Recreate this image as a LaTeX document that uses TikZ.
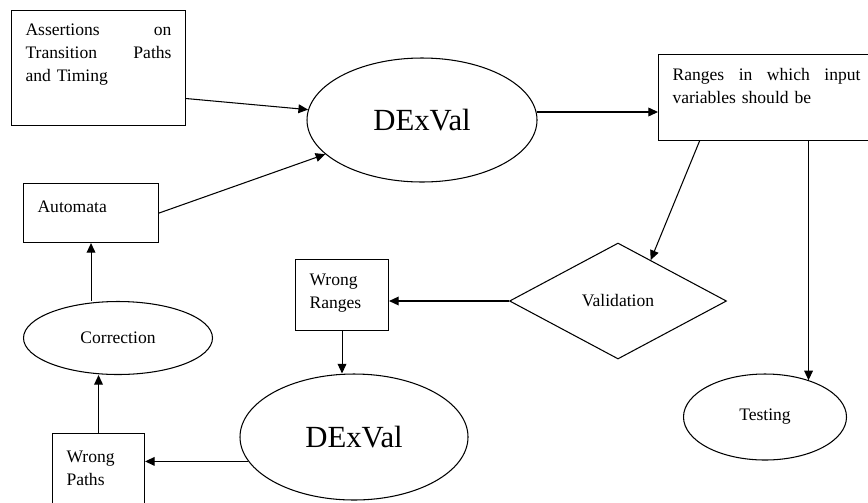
\documentclass[tikz,border=0pt]{standalone}
\usepackage{fontspec}
\setmainfont{Liberation Serif}
\usepackage{tikz}
\usetikzlibrary{calc,positioning,shapes.geometric,arrows.meta}

\begin{document}
\begin{tikzpicture}[line width=0.6pt,
                box/.style={rectangle, draw, anchor=north west, align=left, inner xsep=0.28cm, inner ysep=0pt, font=\fontsize{10}{13}\selectfont},
                oval/.style={ellipse, draw, inner sep=0pt, font=\fontsize{10}{12}\selectfont},
                bigoval/.style={oval, font=\fontsize{17.5}{20}\selectfont},
                arr/.style={-{Triangle[length=5.5pt, width=5pt]}}]
                \useasboundingbox (0,0) rectangle (17.36,-10.04);
                \clip (0,0) rectangle (17.36,-10.04);
                \node [box, text width=2.92cm, text height=0.50cm, text depth=1.80cm] (assert) at (0.22,-0.20) {Assertions\hfill on\\Transition\hfill Paths\\and Timing};
                \node [box, text width=2.14cm, text height=0.58cm, text depth=0.60cm] (automata) at (0.46,-3.66) {Automata};
                \node [box, text width=3.76cm, text height=0.52cm, text depth=1.20cm] (ranges) at (13.16,-1.08) {Ranges\hfill in\hfill which\hfill input\\variables should be};
                \node [box, text width=1.30cm, text height=0.52cm, text depth=0.90cm] (wrongR) at (5.90,-5.18) {Wrong\\Ranges};
                \node [box, text width=1.28cm, text height=0.58cm, text depth=1.40cm] (wrongP) at (1.04,-8.66) {Wrong\\Paths};
                \node [bigoval, minimum width=4.60cm, minimum height=2.48cm] (dex1) at (8.44,-2.40) {DExVal};
                \node [bigoval, minimum width=4.56cm, minimum height=2.52cm] (dex2) at (7.08,-8.74) {DExVal};
                \node [oval, minimum width=3.78cm, minimum height=1.46cm] (correct) at (2.36,-6.76) {Correction};
                \node [oval, minimum width=3.26cm, minimum height=1.72cm] (testing) at (15.30,-8.34) {Testing};
                \node [diamond, draw, inner sep=0pt, minimum width=4.34cm, minimum height=2.32cm, font=\fontsize{10}{12}\selectfont] (valid) at (12.36,-6.02) {Validation};
                \coordinate (tsplit) at ([xshift=0.84cm]ranges.south);
                \draw [arr] ([yshift=-0.61cm]assert.east) -- (dex1);
                \draw [arr] (automata.east) -- (dex1);
                \draw [arr] (dex1.4) -- (dex1.4 -| ranges.west);
                \draw [arr] ([xshift=-1.34cm]ranges.south) -- ($(valid.north)!0.3!(valid.east)$);
                \draw [arr] (tsplit) -- (tsplit |- testing.40);
                \draw [arr] (valid.west) -- (valid.west -| wrongR.east);
                \draw [arr] (wrongR.south) -- (wrongR.south |- dex2.north);
                \draw [arr] (dex2.193) -- (dex2.193 -| wrongP.east);
                \draw [arr] (wrongP.north) -- (wrongP.north |- correct.south);
                \draw [arr] (automata.south |- correct.north) -- (automata.south);
        \end{tikzpicture}
\end{document}
